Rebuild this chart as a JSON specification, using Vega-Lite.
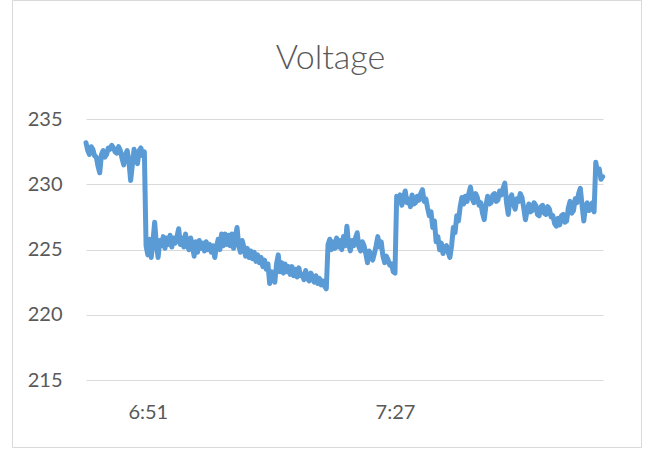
{
 "$schema": "https://vega.github.io/schema/vega-lite/v6.json",
 "width": 629,
 "height": 447,
 "autosize": "none",
 "padding": {"left": 12, "top": 0, "right": 12, "bottom": 3},
 "background": "white",
 "config": {"view": {"stroke": "#D9D9D9", "strokeWidth": 1}, "font": "Lato"},
 "title": {"text": "Voltage", "fontSize": 34, "font": "Lato", "fontWeight": 300, "color": "#595959", "offset": -76, "dx": 4, "anchor": "middle"},
 "data": {"values": [
  {"t":402,"v":233.2},{"t":402.25,"v":232.6},{"t":402.5,"v":232.3},{"t":402.75,"v":232.9},
  {"t":403,"v":232.7},{"t":403.25,"v":232.2},{"t":403.5,"v":232.1},{"t":403.75,"v":231.4},
  {"t":404,"v":230.9},{"t":404.25,"v":232.3},{"t":404.5,"v":232.6},{"t":404.75,"v":232.1},
  {"t":405,"v":232.3},{"t":405.25,"v":232.8},{"t":405.5,"v":232.7},{"t":405.75,"v":233.0},
  {"t":406,"v":232.8},{"t":406.25,"v":232.5},{"t":406.5,"v":232.4},{"t":406.75,"v":232.9},
  {"t":407,"v":232.6},{"t":407.25,"v":232.0},{"t":407.5,"v":231.5},{"t":407.75,"v":232.3},
  {"t":408,"v":232.6},{"t":408.25,"v":231.8},{"t":408.5,"v":230.3},{"t":408.75,"v":231.5},
  {"t":409,"v":232.7},{"t":409.25,"v":232.0},{"t":409.5,"v":231.6},{"t":409.75,"v":232.6},
  {"t":410,"v":232.8},{"t":410.25,"v":232.2},{"t":410.5,"v":232.5},{"t":410.75,"v":225.3},
  {"t":411,"v":224.6},{"t":411.25,"v":225.8},{"t":411.5,"v":224.4},{"t":411.75,"v":225.6},
  {"t":412,"v":227.1},{"t":412.25,"v":225.4},{"t":412.5,"v":224.4},{"t":412.75,"v":225.7},
  {"t":413,"v":225.3},{"t":413.25,"v":226.0},{"t":413.5,"v":225.1},{"t":413.75,"v":225.9},
  {"t":414,"v":225.4},{"t":414.25,"v":226.1},{"t":414.5,"v":225.2},{"t":414.75,"v":225.9},
  {"t":415,"v":225.5},{"t":415.25,"v":226.0},{"t":415.5,"v":226.6},{"t":415.75,"v":225.4},
  {"t":416,"v":225.9},{"t":416.25,"v":225.2},{"t":416.5,"v":226.2},{"t":416.75,"v":225.3},
  {"t":417,"v":225.0},{"t":417.25,"v":225.9},{"t":417.5,"v":225.3},{"t":417.75,"v":224.5},
  {"t":418,"v":225.6},{"t":418.25,"v":224.8},{"t":418.5,"v":225.7},{"t":418.75,"v":225.1},
  {"t":419,"v":225.5},{"t":419.25,"v":224.9},{"t":419.5,"v":225.6},{"t":419.75,"v":225.0},
  {"t":420,"v":225.4},{"t":420.25,"v":224.8},{"t":420.5,"v":225.3},{"t":420.75,"v":224.4},
  {"t":421,"v":225.2},{"t":421.25,"v":225.8},{"t":421.5,"v":225.0},{"t":421.75,"v":226.2},
  {"t":422,"v":225.3},{"t":422.25,"v":226.2},{"t":422.5,"v":225.4},{"t":422.75,"v":226.1},
  {"t":423,"v":225.3},{"t":423.25,"v":226.2},{"t":423.5,"v":225.1},{"t":423.75,"v":226.0},
  {"t":424,"v":226.7},{"t":424.25,"v":225.3},{"t":424.5,"v":224.8},{"t":424.75,"v":225.7},
  {"t":425,"v":225.2},{"t":425.25,"v":224.5},{"t":425.5,"v":225.1},{"t":425.75,"v":224.4},
  {"t":426,"v":224.9},{"t":426.25,"v":224.3},{"t":426.5,"v":224.8},{"t":426.75,"v":224.1},
  {"t":427,"v":224.6},{"t":427.25,"v":224.0},{"t":427.5,"v":224.4},{"t":427.75,"v":223.7},
  {"t":428,"v":224.2},{"t":428.25,"v":223.5},{"t":428.5,"v":223.9},{"t":428.75,"v":222.4},
  {"t":429,"v":223.3},{"t":429.25,"v":222.8},{"t":429.5,"v":222.5},{"t":429.75,"v":223.9},
  {"t":430,"v":224.6},{"t":430.25,"v":223.3},{"t":430.5,"v":224.0},{"t":430.75,"v":223.2},
  {"t":431,"v":223.9},{"t":431.25,"v":223.3},{"t":431.5,"v":223.7},{"t":431.75,"v":223.1},
  {"t":432,"v":223.7},{"t":432.25,"v":223.0},{"t":432.5,"v":223.5},{"t":432.75,"v":222.9},
  {"t":433,"v":223.6},{"t":433.25,"v":223.0},{"t":433.5,"v":223.1},{"t":433.75,"v":222.7},
  {"t":434,"v":223.4},{"t":434.25,"v":222.8},{"t":434.5,"v":222.6},{"t":434.75,"v":223.2},
  {"t":435,"v":222.9},{"t":435.25,"v":222.5},{"t":435.5,"v":223.0},{"t":435.75,"v":222.4},
  {"t":436,"v":222.8},{"t":436.25,"v":222.3},{"t":436.5,"v":222.6},{"t":436.75,"v":222.2},
  {"t":437,"v":222.0},{"t":437.25,"v":225.4},{"t":437.5,"v":225.8},{"t":437.75,"v":225.0},
  {"t":438,"v":225.6},{"t":438.25,"v":225.1},{"t":438.5,"v":225.9},{"t":438.75,"v":225.2},
  {"t":439,"v":225.7},{"t":439.25,"v":225.0},{"t":439.5,"v":226.0},{"t":439.75,"v":225.3},
  {"t":440,"v":226.8},{"t":440.25,"v":225.4},{"t":440.5,"v":224.9},{"t":440.75,"v":225.7},
  {"t":441,"v":225.3},{"t":441.25,"v":225.9},{"t":441.5,"v":226.3},{"t":441.75,"v":225.2},
  {"t":442,"v":224.9},{"t":442.25,"v":225.6},{"t":442.5,"v":225.3},{"t":442.75,"v":224.7},
  {"t":443,"v":224.0},{"t":443.25,"v":224.9},{"t":443.5,"v":224.6},{"t":443.75,"v":224.2},
  {"t":444,"v":224.7},{"t":444.25,"v":225.3},{"t":444.5,"v":226.0},{"t":444.75,"v":225.2},
  {"t":445,"v":225.6},{"t":445.25,"v":224.5},{"t":445.5,"v":224.0},{"t":445.75,"v":224.5},
  {"t":446,"v":224.2},{"t":446.25,"v":223.8},{"t":446.5,"v":223.9},{"t":446.75,"v":223.3},
  {"t":447,"v":223.2},{"t":447.25,"v":229.1},{"t":447.5,"v":228.7},{"t":447.75,"v":229.2},
  {"t":448,"v":228.4},{"t":448.25,"v":229.0},{"t":448.5,"v":229.5},{"t":448.75,"v":228.6},
  {"t":449,"v":228.9},{"t":449.25,"v":228.3},{"t":449.5,"v":229.2},{"t":449.75,"v":228.5},
  {"t":450,"v":228.6},{"t":450.25,"v":229.1},{"t":450.5,"v":228.8},{"t":450.75,"v":229.3},
  {"t":451,"v":229.6},{"t":451.25,"v":228.7},{"t":451.5,"v":228.9},{"t":451.75,"v":228.2},
  {"t":452,"v":227.6},{"t":452.25,"v":227.9},{"t":452.5,"v":226.7},{"t":452.75,"v":227.2},
  {"t":453,"v":225.6},{"t":453.25,"v":226.0},{"t":453.5,"v":225.0},{"t":453.75,"v":225.5},
  {"t":454,"v":224.7},{"t":454.25,"v":225.2},{"t":454.5,"v":225.3},{"t":454.75,"v":224.8},
  {"t":455,"v":224.4},{"t":455.25,"v":225.3},{"t":455.5,"v":226.7},{"t":455.75,"v":226.3},
  {"t":456,"v":227.6},{"t":456.25,"v":227.2},{"t":456.5,"v":228.3},{"t":456.75,"v":229.0},
  {"t":457,"v":228.5},{"t":457.25,"v":229.1},{"t":457.5,"v":228.7},{"t":457.75,"v":229.3},
  {"t":458,"v":229.8},{"t":458.25,"v":228.9},{"t":458.5,"v":228.6},{"t":458.75,"v":229.3},
  {"t":459,"v":229.0},{"t":459.25,"v":228.4},{"t":459.5,"v":228.6},{"t":459.75,"v":227.8},
  {"t":460,"v":227.3},{"t":460.25,"v":228.4},{"t":460.5,"v":229.1},{"t":460.75,"v":228.5},
  {"t":461,"v":228.6},{"t":461.25,"v":229.2},{"t":461.5,"v":229.3},{"t":461.75,"v":228.7},
  {"t":462,"v":228.8},{"t":462.25,"v":229.5},{"t":462.5,"v":229.2},{"t":462.75,"v":229.7},
  {"t":463,"v":230.1},{"t":463.25,"v":228.6},{"t":463.5,"v":227.7},{"t":463.75,"v":228.9},
  {"t":464,"v":229.2},{"t":464.25,"v":228.5},{"t":464.5,"v":228.1},{"t":464.75,"v":228.9},
  {"t":465,"v":228.7},{"t":465.25,"v":229.3},{"t":465.5,"v":229.0},{"t":465.75,"v":228.2},
  {"t":466,"v":227.3},{"t":466.25,"v":228.0},{"t":466.5,"v":228.5},{"t":466.75,"v":227.9},
  {"t":467,"v":228.0},{"t":467.25,"v":228.6},{"t":467.5,"v":228.4},{"t":467.75,"v":227.7},
  {"t":468,"v":227.6},{"t":468.25,"v":228.3},{"t":468.5,"v":228.4},{"t":468.75,"v":227.8},
  {"t":469,"v":227.7},{"t":469.25,"v":228.3},{"t":469.5,"v":228.1},{"t":469.75,"v":227.5},
  {"t":470,"v":227.6},{"t":470.25,"v":227.0},{"t":470.5,"v":226.8},{"t":470.75,"v":227.4},
  {"t":471,"v":226.9},{"t":471.25,"v":227.6},{"t":471.5,"v":227.7},{"t":471.75,"v":227.1},
  {"t":472,"v":227.2},{"t":472.25,"v":228.2},{"t":472.5,"v":228.7},{"t":472.75,"v":227.8},
  {"t":473,"v":228.0},{"t":473.25,"v":228.9},{"t":473.5,"v":228.6},{"t":473.75,"v":229.3},
  {"t":474,"v":229.7},{"t":474.25,"v":228.4},{"t":474.5,"v":227.2},{"t":474.75,"v":228.3},
  {"t":475,"v":228.6},{"t":475.25,"v":228.0},{"t":475.5,"v":228.2},{"t":475.75,"v":228.6},
  {"t":476,"v":227.9},{"t":476.25,"v":231.7},{"t":476.5,"v":230.9},{"t":476.75,"v":231.2},
  {"t":477,"v":230.4},{"t":477.25,"v":230.6}
 ]},
 "mark": {"type": "line", "color": "#5B9BD5", "strokeWidth": 5, "strokeJoin": "round", "strokeCap": "round"},
 "encoding": {
  "x": {
   "field": "t", "type": "quantitative",
   "scale": {"domain": [402, 477.3], "range": [74, 591], "nice": false, "zero": false},
   "axis": {"orient": "bottom", "offset": -45, "domain": false, "ticks": false, "tickSize": 0, "labelPadding": 0, "grid": false, "title": null,
            "values": [411, 447], "labelExpr": "floor(datum.value/60) + ':' + (datum.value % 60 < 10 ? '0' : '') + (datum.value % 60)",
            "labelFontSize": 20, "labelColor": "#595959", "labelFont": "Lato", "labelFlush": false, "labelOverlap": false}
  },
  "y": {
   "field": "v", "type": "quantitative",
   "scale": {"domain": [215, 235], "range": [380, 119.3], "nice": false, "zero": false},
   "axis": {"orient": "left", "offset": -50, "domain": false, "ticks": false, "tickSize": 0, "labelPadding": 0, "grid": true,
            "gridColor": "#D9D9D9", "gridWidth": 1, "title": null, "values": [215, 220, 225, 230, 235],
            "labelFontSize": 20, "labelColor": "#595959", "labelFont": "Lato"}
  }
 }
}
